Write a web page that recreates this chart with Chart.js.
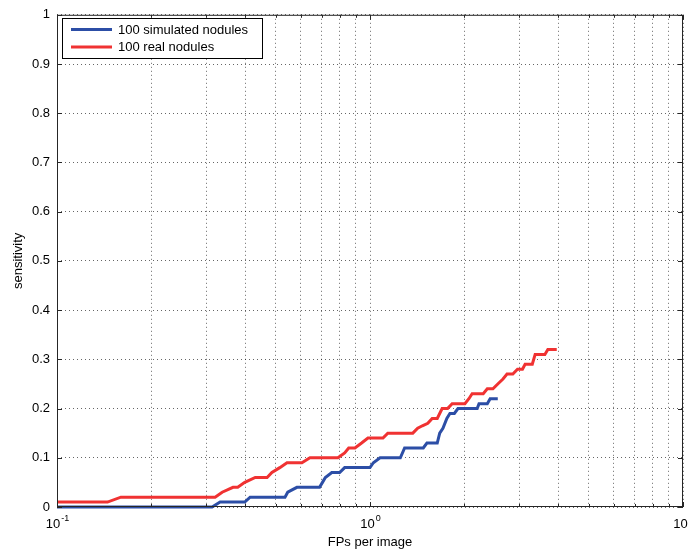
<!DOCTYPE html>
<html>
<head>
<meta charset="utf-8">
<script src="https://cdn.jsdelivr.net/npm/chart.js@4"></script>
<style>
  body { margin: 0; background: #fff; }
  #wrap { width: 689px; height: 550px; }
</style>
</head>
<body>
<div id="wrap"><canvas id="chart" width="689" height="550"></canvas></div>
<script>
// FPs per image / sensitivity
const simFP = [0.1, 0.313, 0.332, 0.398, 0.414, 0.535, 0.546, 0.584, 0.69, 0.705, 0.72, 0.755, 0.80, 0.83, 1.0, 1.025, 1.077, 1.25, 1.29, 1.48, 1.52, 1.64, 1.67, 1.71, 1.76, 1.80, 1.86, 1.91, 2.20, 2.23, 2.37, 2.42, 2.56];
const simSens = [0, 0, 0.01, 0.01, 0.02, 0.02, 0.03, 0.04, 0.04, 0.05, 0.06, 0.07, 0.07, 0.08, 0.08, 0.09, 0.10, 0.10, 0.12, 0.12, 0.13, 0.13, 0.15, 0.16, 0.18, 0.19, 0.19, 0.20, 0.20, 0.21, 0.21, 0.22, 0.22];

const realFP = [0.1, 0.145, 0.16, 0.32, 0.337, 0.365, 0.378, 0.398, 0.43, 0.469, 0.486, 0.515, 0.543, 0.606, 0.643, 0.79, 0.83, 0.855, 0.895, 0.94, 0.985, 1.10, 1.14, 1.37, 1.42, 1.47, 1.53, 1.58, 1.64, 1.70, 1.77, 1.83, 2.01, 2.07, 2.12, 2.30, 2.37, 2.47, 2.56, 2.66, 2.74, 2.86, 2.96, 3.07, 3.13, 3.30, 3.37, 3.62, 3.70, 3.95];
const realSens = [0.01, 0.01, 0.02, 0.02, 0.03, 0.04, 0.04, 0.05, 0.06, 0.06, 0.07, 0.08, 0.09, 0.09, 0.10, 0.10, 0.11, 0.12, 0.12, 0.13, 0.14, 0.14, 0.15, 0.15, 0.16, 0.165, 0.17, 0.18, 0.18, 0.20, 0.20, 0.21, 0.21, 0.22, 0.23, 0.23, 0.24, 0.24, 0.25, 0.26, 0.27, 0.27, 0.28, 0.28, 0.29, 0.29, 0.31, 0.31, 0.32, 0.32];

const seriesNames = ["100 simulated nodules", "100 real nodules"];
const seriesColors = ["#2c4ea6", "#f03232"];

// ticks of the log axis (grid at every one), labels only on decades
const xGridTicks = [0.1, 0.2, 0.3, 0.4, 0.5, 0.6, 0.7, 0.8, 0.9, 1, 2, 3, 4, 5, 6, 7, 8, 9, 10];
const xLabelValues = [0.1, 1, 10];
const xLabelExps = ["-1", "0", "1"];

const FONT = "'Liberation Sans', Arial, Helvetica, sans-serif";

function toPoints(xs, ys) {
  return xs.map((x, i) => ({ x: x, y: ys[i] }));
}

// box, inward ticks, decade labels and legend, MATLAB style
const matlabAxes = {
  id: "matlabAxes",
  afterDraw(chart) {
    const { ctx, chartArea: a, scales } = chart;
    const xs = scales.x, ys = scales.y;
    ctx.save();
    ctx.strokeStyle = "#262626";
    ctx.lineWidth = 1;
    ctx.strokeRect(a.left + 0.5, a.top + 0.5, a.right - a.left - 1, a.bottom - a.top - 1);

    ctx.beginPath();
    xGridTicks.forEach((v) => {
      const px = Math.round(xs.getPixelForValue(v)) + 0.5;
      const len = xLabelValues.includes(v) ? 5 : 3;
      ctx.moveTo(px, a.bottom); ctx.lineTo(px, a.bottom - len);
      ctx.moveTo(px, a.top); ctx.lineTo(px, a.top + len);
    });
    ys.ticks.forEach((t) => {
      const py = Math.round(ys.getPixelForValue(t.value)) + 0.5;
      ctx.moveTo(a.left, py); ctx.lineTo(a.left + 5, py);
      ctx.moveTo(a.right, py); ctx.lineTo(a.right - 5, py);
    });
    ctx.stroke();

    // decade labels 10^n
    ctx.fillStyle = "#000";
    ctx.textBaseline = "alphabetic";
    xLabelValues.forEach((v, i) => {
      const px = xs.getPixelForValue(v);
      ctx.font = "13px " + FONT;
      const wBase = ctx.measureText("10").width;
      ctx.font = "9px " + FONT;
      const wExp = ctx.measureText(xLabelExps[i]).width;
      const x0 = px - (wBase + wExp) / 2;
      ctx.font = "13px " + FONT;
      ctx.textAlign = "left";
      ctx.fillText("10", x0, 528);
      ctx.font = "9px " + FONT;
      ctx.fillText(xLabelExps[i], x0 + wBase + 1, 521);
    });

    // legend box in the upper left corner
    const lx = 62, ly = 18, lw = 200, lh = 40;
    ctx.fillStyle = "#fff";
    ctx.fillRect(lx, ly, lw, lh);
    ctx.strokeStyle = "#000";
    ctx.strokeRect(lx + 0.5, ly + 0.5, lw, lh);
    ctx.font = "13px " + FONT;
    ctx.textBaseline = "middle";
    seriesNames.forEach((name, i) => {
      const yy = ly + 11.5 + i * 17.5;
      ctx.strokeStyle = seriesColors[i];
      ctx.lineWidth = 3;
      ctx.beginPath();
      ctx.moveTo(71, yy); ctx.lineTo(112, yy);
      ctx.stroke();
      ctx.fillStyle = "#000";
      ctx.fillText(name, 118, yy + 0.5);
    });
    ctx.restore();
  }
};

new Chart(document.getElementById("chart"), {
  type: "line",
  data: {
    datasets: [
      {
        label: seriesNames[0],
        data: toPoints(simFP, simSens),
        borderColor: seriesColors[0],
        borderWidth: 3,
        pointRadius: 0,
        tension: 0,
        clip: false
      },
      {
        label: seriesNames[1],
        data: toPoints(realFP, realSens),
        borderColor: seriesColors[1],
        borderWidth: 3,
        pointRadius: 0,
        tension: 0,
        clip: false
      }
    ]
  },
  options: {
    responsive: false,
    animation: false,
    layout: { padding: { left: 0, right: 6, top: 12, bottom: 0 } },
    plugins: { legend: { display: false }, tooltip: { enabled: false } },
    scales: {
      x: {
        type: "logarithmic",
        min: 0.1,
        max: 10,
        afterBuildTicks: (s) => { s.ticks = xGridTicks.map((v) => ({ value: v })); },
        afterFit: (s) => { s.height = 43; },
        ticks: { display: false },
        grid: { color: "rgba(0,0,0,0.6)", lineWidth: 1, drawTicks: false },
        border: { display: false, dash: [1, 3] },
        title: {
          display: true,
          text: "FPs per image",
          color: "#000",
          font: { family: FONT, size: 13 },
          padding: { top: 0, bottom: 0 }
        }
      },
      y: {
        min: 0,
        max: 1,
        afterFit: (s) => { s.width = 57; },
        ticks: {
          stepSize: 0.1,
          color: "#000",
          padding: 7,
          font: { family: FONT, size: 13 },
          callback: (v) => String(Math.round(v * 10) / 10)
        },
        grid: { color: "rgba(0,0,0,0.6)", lineWidth: 1, drawTicks: false },
        border: { display: false, dash: [1, 3] },
        title: {
          display: true,
          text: "sensitivity",
          color: "#000",
          font: { family: FONT, size: 13 },
          padding: { top: 11, bottom: 0 }
        }
      }
    }
  },
  plugins: [matlabAxes]
});
</script>
</body>
</html>
